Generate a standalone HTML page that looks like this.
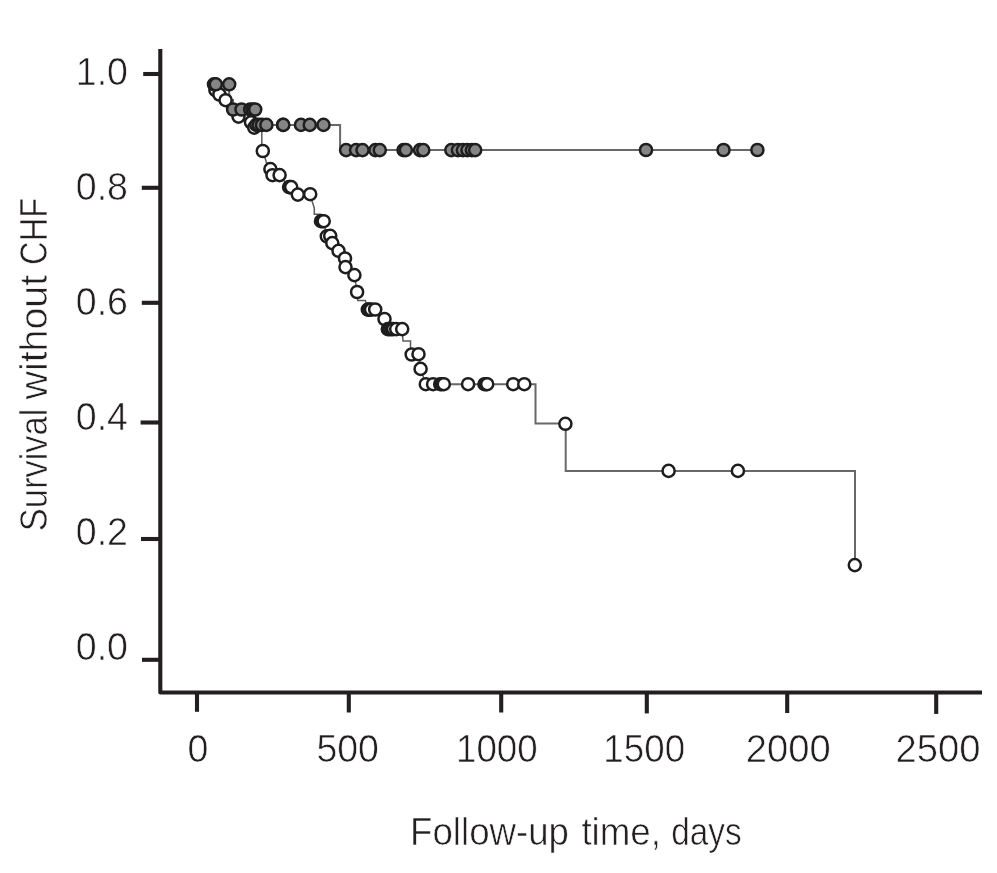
<!DOCTYPE html>
<html lang="en">
<head>
<meta charset="utf-8">
<title>Survival without CHF</title>
<style>
html,body{margin:0;padding:0;background:#fff;}
body{width:997px;height:873px;overflow:hidden;position:relative;}
svg{display:block;position:absolute;left:0;top:0;}
text{font-family:"Liberation Sans",sans-serif;font-size:37.6px;fill:#231f20;stroke:#fff;stroke-width:0.6px;}
.ax{stroke:#231f20;stroke-width:4.1;fill:none;stroke-linecap:butt;stroke-linejoin:round;}
.ln{stroke:#686868;stroke-width:2;fill:none;stroke-linejoin:miter;}
.g{fill:#858585;stroke:#1e1e1e;stroke-width:2.5;}
.w{fill:#fff;stroke:#1e1e1e;stroke-width:2.5;}
</style>
</head>
<body>
<svg width="997" height="873" viewBox="0 0 997 873">

<path class="ax" d="M160.3,49 V692.5 H982"/>
<path class="ax" d="M143.2,74 H161"/>
<path class="ax" d="M141.8,187.8 H161"/>
<path class="ax" d="M141.8,302.8 H161"/>
<path class="ax" d="M140.6,422.5 H161"/>
<path class="ax" d="M141,539 H161"/>
<path class="ax" d="M142,659.8 H161"/>
<path class="ax" d="M197,692 V711.8"/>
<path class="ax" d="M348.8,692 V712.5"/>
<path class="ax" d="M501.2,692 V712.5"/>
<path class="ax" d="M646.8,692 V713.4"/>
<path class="ax" d="M787.2,692 V713"/>
<path class="ax" d="M936.2,692 V713.9"/>
<text transform="translate(128,85) scale(1,1.045)" text-anchor="end">1.0</text>
<text transform="translate(128,200) scale(1,1.045)" text-anchor="end">0.8</text>
<text transform="translate(128,315) scale(1,1.045)" text-anchor="end">0.6</text>
<text transform="translate(128,430) scale(1,1.045)" text-anchor="end">0.4</text>
<text transform="translate(128,545) scale(1,1.045)" text-anchor="end">0.2</text>
<text transform="translate(128,660) scale(1,1.045)" text-anchor="end">0.0</text>
<text transform="translate(197.9,762.3) scale(1,1.045)" text-anchor="middle">0</text>
<text transform="translate(347.7,762.3) scale(1,1.045)" text-anchor="middle" textLength="62.5" lengthAdjust="spacingAndGlyphs">500</text>
<text transform="translate(496.8,762.3) scale(1,1.045)" text-anchor="middle" textLength="81.7" lengthAdjust="spacingAndGlyphs">1000</text>
<text transform="translate(644.2,762.3) scale(1,1.045)" text-anchor="middle" textLength="81.7" lengthAdjust="spacingAndGlyphs">1500</text>
<text transform="translate(788.3,762.3) scale(1,1.045)" text-anchor="middle" textLength="85" lengthAdjust="spacingAndGlyphs">2000</text>
<text transform="translate(938,762.3) scale(1,1.045)" text-anchor="middle" textLength="85" lengthAdjust="spacingAndGlyphs">2500</text>
<text transform="translate(0,844.7) scale(1,1.03)"><tspan x="410.1" textLength="158.8" lengthAdjust="spacingAndGlyphs">Follow-up</tspan> <tspan x="581.4" textLength="79.6" lengthAdjust="spacingAndGlyphs">time,</tspan> <tspan x="671.3" textLength="70.4" lengthAdjust="spacingAndGlyphs">days</tspan></text>
<text transform="translate(47.2,531.2) rotate(-90) scale(1,1.03)"><tspan x="0" textLength="122.6" lengthAdjust="spacingAndGlyphs">Survival</tspan> <tspan x="131.8" textLength="124.5" lengthAdjust="spacingAndGlyphs">without</tspan> <tspan x="266.3" textLength="67.1" lengthAdjust="spacingAndGlyphs">CHF</tspan></text>
<g>
<path class="ln" style="stroke-width:1.5;stroke:#5c5c5c" d="M214,86 L215.4,90 L219.4,94.5 L225.6,100.2 L238.5,116.6 L251,122.3 L254.2,127.6 L261.8,131 V145 L262.8,151 L266.6,163 L270.4,169.1 L272.5,175.2 H279.6 L289.1,187.1 H291.2 L297.8,194.6 H310.2 L312.2,201.5 L314.3,208 V214.2 H321 L323.7,221.2 L326.8,236.3 H330.2 L332.3,243.1 L338.5,250.8 L345,258.5 L345.5,267.1 L354.4,275.1 L357.1,292 L357.7,300.4 H365.4 L367.8,309.6 H375.2 L384.5,319 L387.8,329.1 H402.2 L403,341 H410.5 V347 L411.7,354.5 H418.5 L420.6,368.9 L425.8,384.2"/>
<path class="ln" d="M425.8,384.2 H535.5 V423.4 H565.7 V470.9 H855 V565"/>
<path class="ln" d="M214,84.3 H229.2 V100 H233 V109.5 H255.2 V124.9 H340.1 V150 H757.4"/>
<g class="w">
<circle cx="215.4" cy="90" r="6.05"/>
<circle cx="219.4" cy="94.5" r="6.05"/>
<circle cx="225.6" cy="100.2" r="6.05"/>
<circle cx="238.5" cy="116.6" r="6.05"/>
<circle cx="251" cy="122.3" r="6.05"/>
<circle cx="254.2" cy="127.6" r="6.05"/>
<circle cx="262.8" cy="151" r="6.05"/>
<circle cx="270.4" cy="169.1" r="6.05"/>
<circle cx="272.5" cy="175.2" r="6.05"/>
<circle cx="279.6" cy="175.1" r="6.05"/>
<circle cx="289.1" cy="187.1" r="6.05"/>
<circle cx="290.1" cy="187.1" r="6.05"/>
<circle cx="291.2" cy="187.1" r="6.05"/>
<circle cx="297.8" cy="194.6" r="6.05"/>
<circle cx="310.2" cy="194.2" r="6.05"/>
<circle cx="321" cy="221.2" r="6.05"/>
<circle cx="322.3" cy="221.2" r="6.05"/>
<circle cx="323.7" cy="221.2" r="6.05"/>
<circle cx="326.8" cy="236.3" r="6.05"/>
<circle cx="330.2" cy="235.8" r="6.05"/>
<circle cx="332.3" cy="243.1" r="6.05"/>
<circle cx="338.5" cy="250.8" r="6.05"/>
<circle cx="345" cy="258.5" r="6.05"/>
<circle cx="345.5" cy="267.1" r="6.05"/>
<circle cx="354.4" cy="275.1" r="6.05"/>
<circle cx="357.1" cy="292" r="6.05"/>
<circle cx="367.8" cy="309.6" r="6.05"/>
<circle cx="369.3" cy="309.6" r="6.05"/>
<circle cx="371" cy="309.6" r="6.05"/>
<circle cx="375.2" cy="309.5" r="6.05"/>
<circle cx="384.5" cy="319" r="6.05"/>
<circle cx="387.8" cy="329.1" r="6.05"/>
<circle cx="389.6" cy="329.1" r="6.05"/>
<circle cx="391.4" cy="329.1" r="6.05"/>
<circle cx="393.2" cy="329.1" r="6.05"/>
<circle cx="396.2" cy="329.1" r="6.05"/>
<circle cx="402.2" cy="329.1" r="6.05"/>
<circle cx="411.7" cy="354.5" r="6.05"/>
<circle cx="418.5" cy="354.2" r="6.05"/>
<circle cx="420.6" cy="368.9" r="6.05"/>
<circle cx="425.8" cy="384.2" r="6.05"/>
<circle cx="433.1" cy="384.2" r="6.05"/>
<circle cx="440.2" cy="384.2" r="6.05"/>
<circle cx="441.8" cy="384.2" r="6.05"/>
<circle cx="443.8" cy="384.2" r="6.05"/>
<circle cx="468.1" cy="384.2" r="6.05"/>
<circle cx="484.5" cy="384.2" r="6.05"/>
<circle cx="486" cy="384.2" r="6.05"/>
<circle cx="487.2" cy="384.2" r="6.05"/>
<circle cx="513.2" cy="384.2" r="6.05"/>
<circle cx="524.3" cy="384.2" r="6.05"/>
<circle cx="565.4" cy="423.8" r="6.05"/>
<circle cx="668.6" cy="470.9" r="6.05"/>
<circle cx="737.9" cy="470.9" r="6.05"/>
<circle cx="854.8" cy="565.1" r="6.05"/>
</g>
<g class="g">
<circle cx="214" cy="84.3" r="6.05"/>
<circle cx="215.8" cy="84.3" r="6.05"/>
<circle cx="229.2" cy="84.3" r="6.05"/>
<circle cx="233.1" cy="109.5" r="6.05"/>
<circle cx="241.5" cy="109.5" r="6.05"/>
<circle cx="250.2" cy="109.5" r="6.05"/>
<circle cx="252.7" cy="109.5" r="6.05"/>
<circle cx="255.2" cy="109.5" r="6.05"/>
<circle cx="256.3" cy="124.9" r="6.05"/>
<circle cx="258.8" cy="124.9" r="6.05"/>
<circle cx="262" cy="124.9" r="6.05"/>
<circle cx="266.4" cy="124.9" r="6.05"/>
<circle cx="283" cy="124.9" r="6.05"/>
<circle cx="283.3" cy="124.9" r="6.05"/>
<circle cx="301" cy="124.9" r="6.05"/>
<circle cx="309.8" cy="124.9" r="6.05"/>
<circle cx="323.5" cy="124.9" r="6.05"/>
<circle cx="346.1" cy="150.1" r="6.05"/>
<circle cx="356.1" cy="150.1" r="6.05"/>
<circle cx="362.5" cy="150.1" r="6.05"/>
<circle cx="375.4" cy="150.1" r="6.05"/>
<circle cx="379.8" cy="150.1" r="6.05"/>
<circle cx="403.5" cy="150.1" r="6.05"/>
<circle cx="405.9" cy="150.1" r="6.05"/>
<circle cx="420" cy="150.1" r="6.05"/>
<circle cx="423.3" cy="150.1" r="6.05"/>
<circle cx="451.3" cy="150.1" r="6.05"/>
<circle cx="457.9" cy="150.1" r="6.05"/>
<circle cx="462.9" cy="150.1" r="6.05"/>
<circle cx="467.4" cy="150.1" r="6.05"/>
<circle cx="471.9" cy="150.1" r="6.05"/>
<circle cx="475.2" cy="150.1" r="6.05"/>
<circle cx="646" cy="150.0" r="6.05"/>
<circle cx="723.5" cy="150.0" r="6.05"/>
<circle cx="757.4" cy="150.0" r="6.05"/>
</g>
</g>
</svg>
</body>
</html>
